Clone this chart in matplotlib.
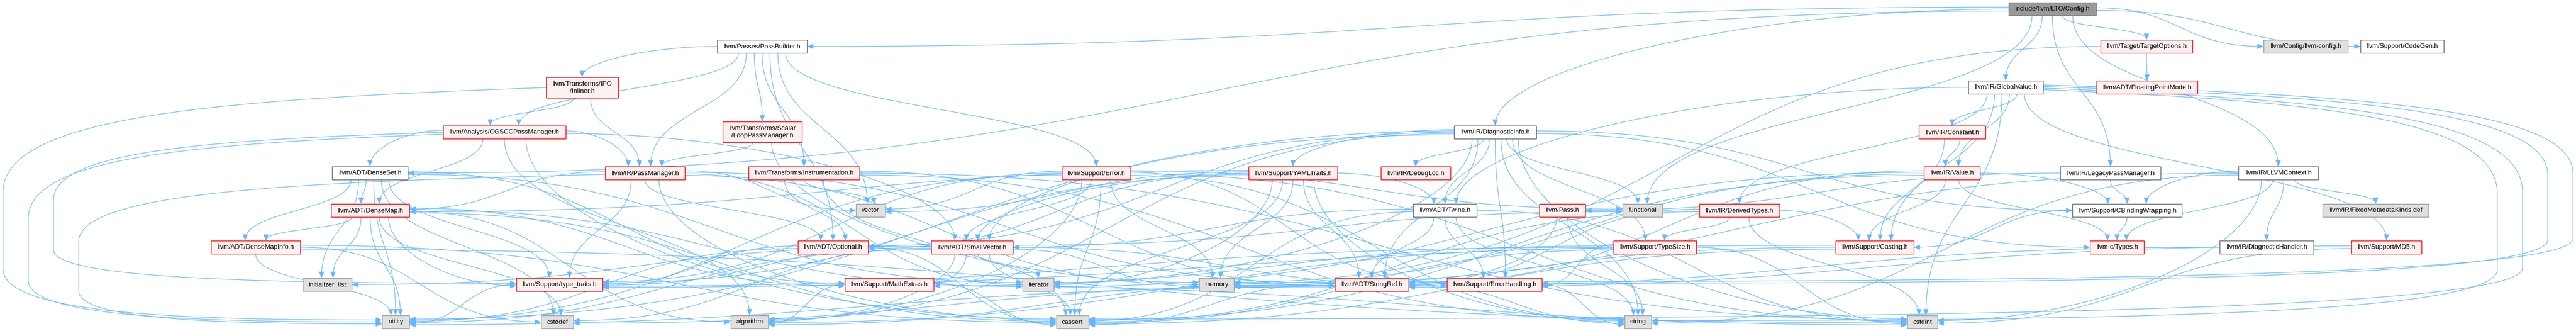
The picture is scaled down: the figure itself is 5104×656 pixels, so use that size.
import matplotlib
matplotlib.use("Agg")
import matplotlib.pyplot as plt
from matplotlib.patches import Rectangle, FancyArrowPatch
from matplotlib.path import Path
from collections import defaultdict

# ---------------- data: nodes, labels, kinds, include edges ----------------
node_labels = {
    "Config": "include/llvm/LTO/Config.h",
    "PassBuilder": "llvm/Passes/PassBuilder.h",
    "GlobalValue": "llvm/IR/GlobalValue.h",
    "TargetOptions": "llvm/Target/TargetOptions.h",
    "llvmconfig": "llvm/Config/llvm-config.h",
    "CodeGen": "llvm/Support/CodeGen.h",
    "FloatingPointMode": "llvm/ADT/FloatingPointMode.h",
    "Inliner": "llvm/Transforms/IPO\n/Inliner.h",
    "CGSCC": "llvm/Analysis/CGSCCPassManager.h",
    "LoopPM": "llvm/Transforms/Scalar\n/LoopPassManager.h",
    "DiagnosticInfo": "llvm/IR/DiagnosticInfo.h",
    "Constant": "llvm/IR/Constant.h",
    "DenseSet": "llvm/ADT/DenseSet.h",
    "PassManager": "llvm/IR/PassManager.h",
    "Instrumentation": "llvm/Transforms/Instrumentation.h",
    "Error": "llvm/Support/Error.h",
    "YAMLTraits": "llvm/Support/YAMLTraits.h",
    "DebugLoc": "llvm/IR/DebugLoc.h",
    "Value": "llvm/IR/Value.h",
    "LegacyPM": "llvm/IR/LegacyPassManager.h",
    "LLVMContext": "llvm/IR/LLVMContext.h",
    "DenseMap": "llvm/ADT/DenseMap.h",
    "vector": "vector",
    "Twine": "llvm/ADT/Twine.h",
    "Pass": "llvm/Pass.h",
    "functional": "functional",
    "DerivedTypes": "llvm/IR/DerivedTypes.h",
    "CBindingWrapping": "llvm/Support/CBindingWrapping.h",
    "FixedMetadataKinds": "llvm/IR/FixedMetadataKinds.def",
    "DenseMapInfo": "llvm/ADT/DenseMapInfo.h",
    "Optional": "llvm/ADT/Optional.h",
    "SmallVector": "llvm/ADT/SmallVector.h",
    "TypeSize": "llvm/Support/TypeSize.h",
    "Casting": "llvm/Support/Casting.h",
    "Types": "llvm-c/Types.h",
    "DiagnosticHandler": "llvm/IR/DiagnosticHandler.h",
    "MD5": "llvm/Support/MD5.h",
    "initializer_list": "initializer_list",
    "type_traits": "llvm/Support/type_traits.h",
    "MathExtras": "llvm/Support/MathExtras.h",
    "iterator": "iterator",
    "memory": "memory",
    "StringRef": "llvm/ADT/StringRef.h",
    "ErrorHandling": "llvm/Support/ErrorHandling.h",
    "utility": "utility",
    "cstddef": "cstddef",
    "algorithm": "algorithm",
    "cassert": "cassert",
    "string": "string",
    "cstdint": "cstdint",
}

root_nodes = ["Config"]
plain_nodes = ["PassBuilder", "GlobalValue", "CodeGen", "DiagnosticInfo", "DenseSet",
               "LegacyPM", "LLVMContext", "Twine", "CBindingWrapping", "DiagnosticHandler"]
system_nodes = ["llvmconfig", "vector", "functional", "FixedMetadataKinds", "initializer_list",
                "iterator", "memory", "utility", "cstddef", "algorithm", "cassert", "string", "cstdint"]
# every other node is a truncated (red) node

edges_from = {
    "Config": ["PassBuilder", "DenseSet", "llvmconfig", "DiagnosticInfo", "GlobalValue",
               "LLVMContext", "LegacyPM", "CodeGen", "TargetOptions", "functional"],
    "PassBuilder": ["Inliner", "CGSCC", "PassManager", "LoopPM", "Instrumentation",
                    "Optional", "Error", "vector"],
    "TargetOptions": ["FloatingPointMode", "memory"],
    "GlobalValue": ["Constant", "DerivedTypes", "Value", "Casting", "StringRef", "Twine",
                    "ErrorHandling", "MD5", "cassert", "cstdint", "string"],
    "Inliner": ["CGSCC", "PassManager", "utility"],
    "CGSCC": ["DenseMap", "DenseSet", "PassManager", "SmallVector", "algorithm", "cassert",
              "utility", "type_traits"],
    "LoopPM": ["PassManager", "memory"],
    "DiagnosticInfo": ["YAMLTraits", "DebugLoc", "Twine", "StringRef", "functional", "TypeSize",
                       "SmallVector", "Optional", "CBindingWrapping", "Types", "algorithm",
                       "cstdint", "iterator", "string", "ErrorHandling", "utility"],
    "Constant": ["Value", "Casting"],
    "DenseSet": ["DenseMap", "DenseMapInfo", "MathExtras", "type_traits", "cstddef",
                 "initializer_list", "iterator", "utility"],
    "PassManager": ["DenseMap", "StringRef", "cassert", "iterator", "memory", "type_traits",
                    "utility", "vector", "Optional"],
    "Instrumentation": ["vector", "StringRef", "cassert", "cstdint", "string", "Optional"],
    "Error": ["SmallVector", "ErrorHandling", "algorithm", "cassert", "cstdint", "functional",
              "memory", "string", "type_traits", "utility", "vector"],
    "YAMLTraits": ["DenseMap", "Optional", "SmallVector", "StringRef", "Twine", "cassert",
                   "memory", "string", "type_traits", "vector", "iterator"],
    "Value": ["CBindingWrapping", "Casting", "Types", "StringRef", "cassert", "iterator", "memory"],
    "LegacyPM": ["Pass", "CBindingWrapping"],
    "LLVMContext": ["DiagnosticHandler", "FixedMetadataKinds", "CBindingWrapping", "Types",
                    "cstdint", "memory", "string"],
    "DenseMap": ["DenseMapInfo", "MathExtras", "type_traits", "algorithm", "cassert", "cstddef",
                 "initializer_list", "iterator", "utility"],
    "Twine": ["SmallVector", "StringRef", "ErrorHandling", "cassert", "cstdint", "string"],
    "Pass": ["StringRef", "string"],
    "DerivedTypes": ["Casting", "TypeSize", "StringRef", "cassert", "cstdint"],
    "CBindingWrapping": ["Casting", "Types"],
    "DenseMapInfo": ["cassert", "cstddef", "cstdint", "utility"],
    "Optional": ["type_traits", "cassert", "utility"],
    "SmallVector": ["MathExtras", "ErrorHandling", "type_traits", "algorithm", "cassert",
                    "cstddef", "initializer_list", "iterator", "memory", "utility", "functional"],
    "TypeSize": ["ErrorHandling", "MathExtras", "algorithm", "cassert", "cstdint", "type_traits"],
    "Casting": ["type_traits", "cassert", "memory"],
    "DiagnosticHandler": ["StringRef"],
    "MD5": ["StringRef", "cstdint"],
    "type_traits": ["utility"],
    "MathExtras": ["algorithm", "cassert", "cstdint"],
    "StringRef": ["algorithm", "cassert", "cstddef", "string", "utility"],
    "ErrorHandling": ["string"],
}

# edges that the graph layout routes around the outer margins
wrap_left_edges = [("Inliner", "utility"), ("CGSCC", "utility"),
                   ("PassManager", "utility"), ("CGSCC", "type_traits")]
wrap_right_edges = [("GlobalValue", "StringRef"), ("GlobalValue", "ErrorHandling"),
                    ("GlobalValue", "string"), ("GlobalValue", "cassert")]

# ---------------- layout (pixel boxes: left, right, top) ----------------
layout = {
    "Config": (3980, 4153, 5),
    "PassBuilder": (1421, 1599, 79),
    "TargetOptions": (4162, 4344, 79),
    "llvmconfig": (4485, 4652, 79),
    "CodeGen": (4677, 4842, 79),
    "GlobalValue": (3900, 4048, 160),
    "FloatingPointMode": (4154, 4354, 160),
    "Inliner": (1082, 1225, 153),
    "CGSCC": (878, 1121, 249),
    "LoopPM": (1432, 1589, 241),
    "DiagnosticInfo": (2881, 3044, 249),
    "Constant": (3802, 3934, 249),
    "DenseSet": (658, 808, 330),
    "PassManager": (1199, 1357, 330),
    "Instrumentation": (1483, 1703, 330),
    "Error": (2104, 2240, 330),
    "YAMLTraits": (2474, 2650, 330),
    "DebugLoc": (2736, 2874, 330),
    "Value": (3812, 3923, 330),
    "LegacyPM": (4082, 4281, 330),
    "LLVMContext": (4435, 4593, 330),
    "DenseMap": (656, 811, 404),
    "vector": (1696, 1754, 404),
    "Twine": (2800, 2926, 404),
    "Pass": (3050, 3141, 404),
    "functional": (3215, 3294, 404),
    "DerivedTypes": (3367, 3526, 404),
    "CBindingWrapping": (4106, 4323, 404),
    "FixedMetadataKinds": (4602, 4812, 404),
    "DenseMapInfo": (418, 595, 477),
    "Optional": (1581, 1720, 477),
    "SmallVector": (1845, 2007, 477),
    "TypeSize": (3197, 3361, 477),
    "Casting": (3637, 3792, 477),
    "Types": (4141, 4248, 477),
    "DiagnosticHandler": (4398, 4584, 477),
    "MD5": (4659, 4798, 477),
    "initializer_list": (600, 697, 551),
    "type_traits": (1023, 1194, 551),
    "MathExtras": (1674, 1850, 551),
    "iterator": (2026, 2088, 551),
    "memory": (2376, 2445, 551),
    "StringRef": (2645, 2791, 551),
    "ErrorHandling": (2867, 3055, 551),
    "utility": (757, 811, 625),
    "cstddef": (1072, 1136, 625),
    "algorithm": (1448, 1522, 625),
    "cassert": (2093, 2157, 625),
    "string": (3219, 3272, 625),
    "cstdint": (3779, 3839, 625),
}

EDGE_COLOR = "#63B8FF"
FONT = "Liberation Sans"
W, H = 5104, 656
MARGIN_STEP = 50
LOW_ROW_TOP = 540


def box(n):
    l, r, t = layout[n]
    h = 41 if "\n" in node_labels[n] else 26
    return l, r, t, t + h


def center(n):
    l, r, t, b = box(n)
    return (l + r) / 2, (t + b) / 2


fig = plt.figure(figsize=(W / 100, H / 100), dpi=100)
ax = fig.add_axes([0, 0, 1, 1])
ax.set_xlim(0, W)
ax.set_ylim(H, 0)
ax.axis("off")

# ---------- decide ports ----------
edge_list = []
for s, targets in edges_from.items():
    for t in targets:
        sx, sy = center(s)
        tx, ty = center(t)
        dx, dy = tx - sx, ty - sy
        if (s, t) in wrap_left_edges:
            out_port, in_port, mode = "left", "left", "wrapL"
        elif (s, t) in wrap_right_edges:
            out_port, in_port, mode = "right", "right", "wrapR"
        else:
            out_port = ("right" if dx > 0 else "left") if abs(dx) > 3.2 * dy else "bottom"
            low = layout[t][2] >= LOW_ROW_TOP
            side_in = abs(dx) > (2.0 if low else 5.0) * dy
            in_port = ("left" if dx > 0 else "right") if side_in else "top"
            mode = "normal"
        edge_list.append([s, t, out_port, in_port, mode])

groups = defaultdict(list)
for i, (s, t, op, ip, mode) in enumerate(edge_list):
    groups[(s, op, "out")].append(i)
    groups[(t, ip, "in")].append(i)

port_pos = {}
for (n, port, kind), idxs in groups.items():
    l, r, t_, b = box(n)
    other = [edge_list[i][1] if kind == "out" else edge_list[i][0] for i in idxs]
    k_n = len(idxs)
    if port in ("bottom", "top"):
        order = sorted(range(k_n), key=lambda k: center(other[k])[0])
        for rank, k in enumerate(order):
            frac = (rank + 1) / (k_n + 1)
            x = l + (r - l) * (0.15 + 0.7 * frac)
            y = b if port == "bottom" else t_
            port_pos[(idxs[k], kind)] = (x, y)
    else:
        order = sorted(range(k_n), key=lambda k: center(other[k])[1])
        for rank, k in enumerate(order):
            frac = (rank + 1) / (k_n + 1)
            y = t_ + (b - t_) * (0.2 + 0.6 * frac)
            x = r if port == "right" else l
            port_pos[(idxs[k], kind)] = (x, y)

# ---------- draw edges ----------
wrap_rank = {"wrapL": 0, "wrapR": 0}
for i, (s, t, op, ip, mode) in enumerate(edge_list):
    x0, y0 = port_pos[(i, "out")]
    x3, y3 = port_pos[(i, "in")]
    C = Path.CURVE4
    if mode == "normal":
        if op == "bottom":
            p1 = (x0, y0 + 0.5 * (y3 - y0))
        else:
            p1 = (x0 + 0.5 * (x3 - x0), y0)
        if ip == "top":
            p2 = (x3, y3 - 0.5 * (y3 - y0))
        else:
            p2 = (x3 - 0.5 * (x3 - x0), y3)
        verts = [(x0, y0), p1, p2, (x3, y3)]
        codes = [Path.MOVETO, C, C, C]
    else:
        k = wrap_rank[mode]
        wrap_rank[mode] += 1
        if mode == "wrapL":
            xv = 6 + MARGIN_STEP * k
        else:
            xv = W - 6 - MARGIN_STEP * k
        yb = y0 + 0.45 * (y3 - y0)
        yc = y3 - 0.22 * (y3 - y0)
        verts = [(x0, y0),
                 (x0 + 0.6 * (xv - x0), y0 + 0.05 * (y3 - y0)), (xv, y0 + 0.12 * (y3 - y0)), (xv, yb),
                 (xv, yc),
                 (xv, y3 - 0.02 * (y3 - y0)), (xv + 0.5 * (x3 - xv), y3), (x3, y3)]
        codes = [Path.MOVETO, C, C, C, Path.LINETO, C, C, C]
    path = Path(verts, codes)
    arr = FancyArrowPatch(path=path, arrowstyle="-|>,head_length=0.75,head_width=0.32",
                          mutation_scale=10, color=EDGE_COLOR, lw=0.85,
                          shrinkA=0, shrinkB=0, zorder=1)
    ax.add_patch(arr)

# ---------- draw nodes ----------
for n, label in node_labels.items():
    l, r, t_, b = box(n)
    if n in root_nodes:
        fc, ec = "#999999", "#666666"
    elif n in plain_nodes:
        fc, ec = "#FFFFFF", "#666666"
    elif n in system_nodes:
        fc, ec = "#E0E0E0", "#999999"
    else:
        fc, ec = "#FFF0F0", "#FF0000"
    ax.add_patch(Rectangle((l, t_), r - l, b - t_, facecolor=fc, edgecolor=ec,
                           lw=1.0, zorder=3))
    ax.text((l + r) / 2, (t_ + b) / 2 + 0.5, label, ha="center", va="center",
            fontsize=9.4, family=FONT, color="black", zorder=4, linespacing=1.25)

fig.savefig("out.png", dpi=100, facecolor="white")
